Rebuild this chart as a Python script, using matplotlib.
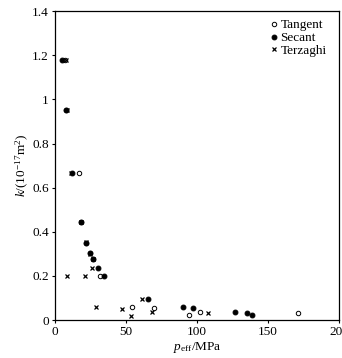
import matplotlib
matplotlib.use("Agg")
import matplotlib.pyplot as plt

plt.rcParams['font.family'] = ['Liberation Serif', 'DejaVu Serif']
plt.rcParams['mathtext.fontset'] = 'custom'
plt.rcParams['mathtext.rm'] = 'Liberation Serif'
plt.rcParams['mathtext.it'] = 'Liberation Serif:italic'

# 有效应力 (MPa) 与渗透率 k (10^-17 m^2)
tan_p = [7, 8, 17, 18, 22, 24.5, 27, 31.5, 54.5, 70, 94.4, 102.3, 171]
tan_k = [1.18, 0.95, 0.665, 0.444, 0.35, 0.305, 0.275, 0.2, 0.06, 0.053, 0.021, 0.036, 0.033]

sec_p = [5, 8, 12, 18, 22, 24.5, 27, 30.5, 34.5, 65.3, 90.2, 97, 127, 135, 139]
sec_k = [1.177, 0.953, 0.665, 0.444, 0.35, 0.305, 0.275, 0.234, 0.2, 0.094, 0.059, 0.053, 0.036, 0.033, 0.021]

ter_p = [8, 8.5, 11, 18, 21.5, 24.5, 26.8, 26.3, 8.6, 21.4, 29.1, 47, 53.6, 61, 68.3, 108]
ter_k = [1.177, 0.95, 0.665, 0.444, 0.355, 0.30, 0.275, 0.234, 0.198, 0.2, 0.057, 0.051, 0.02, 0.094, 0.035, 0.032]

xticks = [0, 50, 100, 150, 200]
yticks = [0, 0.2, 0.4, 0.6, 0.8, 1, 1.2, 1.4]
yticklabels = ['0', '0.2', '0.4', '0.6', '0.8', '1', '1.2', '1.4']

fig = plt.figure(figsize=(3.42, 3.58), dpi=100)
ax = fig.add_axes([0.161, 0.106, 0.830, 0.863])

ax.plot(tan_p, tan_k, 'o', ms=3.2, mfc='white', mec='black', mew=0.7, ls='none', label='Tangent')
ax.plot(sec_p, sec_k, 'o', ms=3.5, mfc='black', mec='black', mew=0.7, ls='none', label='Secant')
ax.plot(ter_p, ter_k, 'x', ms=3.2, mec='black', mew=0.9, ls='none', label='Terzaghi')

ax.set_xlim(0, 200)
ax.set_ylim(0, 1.4)
ax.set_xticks(xticks)
ax.set_yticks(yticks)
ax.set_yticklabels(yticklabels)
ax.tick_params(direction='out', length=2.5, width=0.8, labelsize=9.5, pad=2)
for s in ax.spines.values():
    s.set_linewidth(0.9)

ax.set_xlabel(r'$p_{\rm eff}$/MPa', fontsize=9.5, labelpad=1)
ax.set_ylabel(r'$k$/(10$^{-17}$m$^2$)', fontsize=9.5, labelpad=1)

ax.legend(loc='upper right', frameon=False, fontsize=9.5, handletextpad=0.1,
          handlelength=0.8, borderaxespad=0.2, labelspacing=0.05,
          bbox_to_anchor=(0.985, 1.0))

fig.savefig('out.png', dpi=100)
